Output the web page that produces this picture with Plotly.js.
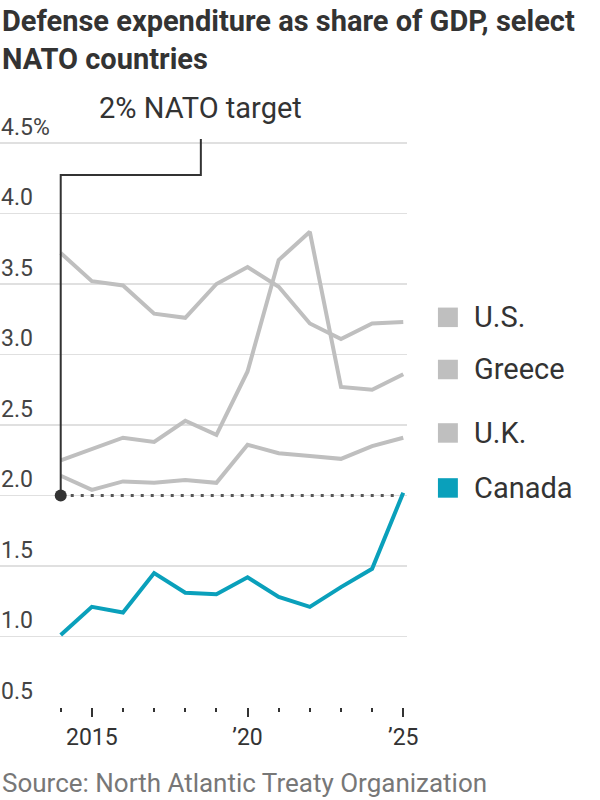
<!DOCTYPE html>
<html>
<head>
<meta charset="utf-8">
<script src="https://cdn.plot.ly/plotly-3.0.1.min.js"></script>
<style>
  html, body { margin: 0; padding: 0; background: #fff; }
  #chart { width: 600px; height: 800px; }
</style>
</head>
<body>
<div id="chart"></div>
<script>
// Defense expenditure as a share of GDP (%), NATO estimates
const years = [2014, 2015, 2016, 2017, 2018, 2019, 2020, 2021, 2022, 2023, 2024, 2025];
const usShare     = [3.72, 3.52, 3.49, 3.29, 3.26, 3.50, 3.62, 3.48, 3.22, 3.11, 3.22, 3.23];
const greeceShare = [2.25, 2.33, 2.41, 2.38, 2.53, 2.43, 2.88, 3.67, 3.87, 2.77, 2.75, 2.86];
const ukShare     = [2.14, 2.04, 2.10, 2.09, 2.11, 2.09, 2.36, 2.30, 2.28, 2.26, 2.35, 2.41];
const canadaShare = [1.01, 1.21, 1.17, 1.45, 1.31, 1.30, 1.42, 1.28, 1.21, 1.35, 1.48, 2.02];

const seriesNames = ['U.S.', 'Greece', 'U.K.', 'Canada'];
const seriesValues = [usShare, greeceShare, ukShare, canadaShare];
const seriesColors = ['#bfbfbf', '#bfbfbf', '#bfbfbf', '#0aa0bb'];

const natoTarget = 2.0;
const yTickVals = [0.5, 1.0, 1.5, 2.0, 2.5, 3.0, 3.5, 4.0, 4.5];
const yTickText = ['0.5', '1.0', '1.5', '2.0', '2.5', '3.0', '3.5', '4.0', '4.5%'];
const xTickVals = [2015, 2020, 2025];
const xTickText = ['2015', '\u201920', '\u201925'];

const FONT = 'Roboto, "Noto Sans", sans-serif';
// a little headroom above 4.5 so the top tick label stays inside the plot area
const yRange = [0.5, 4.72];
const xRange = [2012.05, 2025.12];
const plotTop = 112, plotBottom = 707;
const toPaperY = v => (v - yRange[0]) / (yRange[1] - yRange[0]);
const pxToPaperY = py => (plotBottom - py) / (plotBottom - plotTop);

const traces = [];
// Target reference line
traces.push({
  x: [years[0], years[years.length - 1]],
  y: [natoTarget, natoTarget],
  mode: 'lines',
  line: { color: '#555', width: 3, dash: '3px,7px' },
  hoverinfo: 'skip'
});
seriesValues.forEach((vals, i) => {
  traces.push({
    x: years, y: vals, name: seriesNames[i],
    mode: 'lines',
    line: { color: seriesColors[i], width: 4 },
    hoverinfo: 'skip'
  });
});
// Anchor dot of the target callout
traces.push({
  x: [years[0]], y: [natoTarget],
  mode: 'markers',
  marker: { color: '#333', size: 12 },
  cliponaxis: false,
  hoverinfo: 'skip'
});

const calloutYear = 2018.5;
const shapes = [{
  type: 'path',
  xref: 'x', yref: 'paper',
  path: `M ${years[0]},${toPaperY(natoTarget)} V ${pxToPaperY(175)} H ${calloutYear} V ${pxToPaperY(139)}`,
  line: { color: '#333', width: 2 }
}];

const annotations = [{
  text: '<b>Defense expenditure as share of GDP, select<br>NATO countries</b>',
  xref: 'paper', yref: 'paper',
  x: 0, y: pxToPaperY(2),
  xanchor: 'left', yanchor: 'top', align: 'left',
  showarrow: false,
  font: { family: FONT, size: 29, color: '#333' }
}, {
  text: '2% NATO target',
  xref: 'x', yref: 'paper',
  x: calloutYear, y: pxToPaperY(108),
  xanchor: 'center', yanchor: 'middle',
  showarrow: false,
  font: { family: FONT, size: 29, color: '#333' }
}, {
  text: 'Source: North Atlantic Treaty Organization',
  xref: 'paper', yref: 'paper',
  x: 0, y: pxToPaperY(783),
  xanchor: 'left', yanchor: 'middle',
  showarrow: false,
  font: { family: FONT, size: 26, color: '#777' }
}];

// End-of-line labels with colour keys
seriesValues.forEach((vals, i) => {
  const last = vals[vals.length - 1];
  shapes.push({
    type: 'rect',
    xref: 'paper', yref: 'y',
    x0: 1.076, x1: 1.125,
    ysizemode: 'pixel', yanchor: last,
    y0: -5, y1: 14.5,
    fillcolor: seriesColors[i],
    line: { width: 0 }
  });
  annotations.push({
    text: seriesNames[i],
    xref: 'paper', yref: 'y',
    x: 1.16, y: last, yshift: 5,
    xanchor: 'left', yanchor: 'middle',
    showarrow: false,
    font: { family: FONT, size: 29, color: '#333' }
  });
});

const layout = {
  width: 600, height: 800,
  margin: { l: 0, r: 193, t: plotTop, b: 800 - plotBottom },
  paper_bgcolor: '#fff', plot_bgcolor: '#fff',
  showlegend: false,
  xaxis: {
    range: xRange,
    tickvals: xTickVals, ticktext: xTickText,
    ticks: 'outside', ticklen: 9, tickwidth: 2, tickcolor: '#333',
    minor: { tickvals: years, ticks: 'outside', ticklen: 4, tickwidth: 2, tickcolor: '#333', showgrid: false },
    showgrid: false, zeroline: false, showline: false,
    tickfont: { family: FONT, size: 23, color: '#333' },
    fixedrange: true
  },
  yaxis: {
    range: yRange,
    tickvals: yTickVals, ticktext: yTickText,
    ticklabelposition: 'inside top',
    ticklabelstandoff: -2,
    ticks: '',
    showgrid: true, gridcolor: '#e0e0e0', gridwidth: 1.5,
    zeroline: false, showline: false,
    tickfont: { family: FONT, size: 23, color: '#444' },
    fixedrange: true
  },
  shapes: shapes,
  annotations: annotations
};

Plotly.newPlot('chart', traces, layout, { displayModeBar: false, staticPlot: true });
</script>
</body>
</html>
